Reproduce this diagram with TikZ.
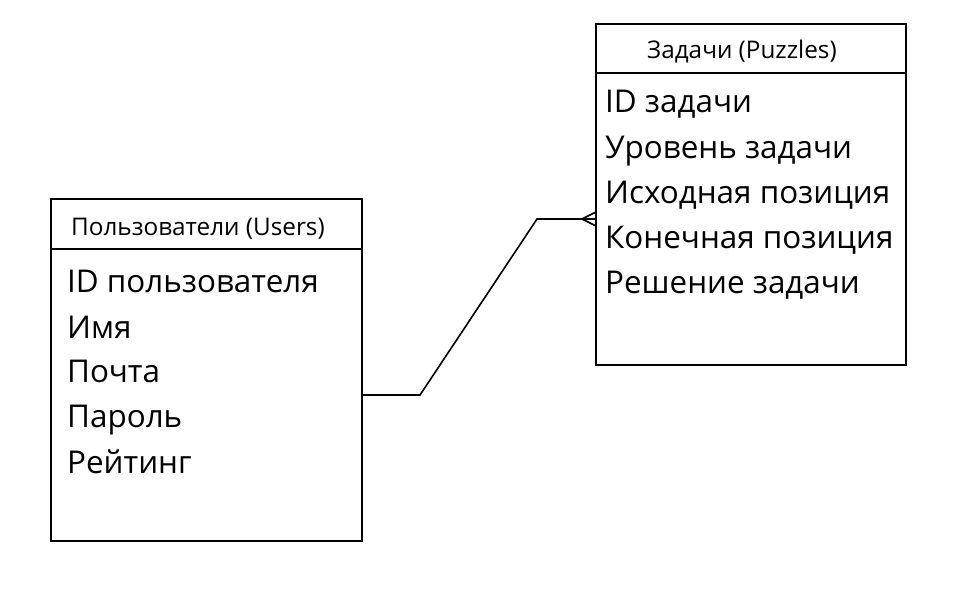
\documentclass[tikz,border=0pt]{standalone}
\usepackage{fontspec}
\setmainfont{Open Sans}
\begin{document}
\begin{tikzpicture}[x=1pt,y=-1pt,
  tbl/.style={draw=black,line width=1.6pt},
  hdr/.style={anchor=base west,inner sep=0pt,font=\fontsize{24.3}{28}\selectfont},
  row/.style={anchor=base west,inner sep=0pt,font=\fontsize{31.4}{36}\selectfont},
  link/.style={draw=black,line width=1.6pt}]
\useasboundingbox[fill=white] (0,0) rectangle (973,611);
% Users
\draw[tbl] (51,199) rectangle (362,541);
\draw[tbl] (51,249) -- (362,249);
\node[hdr] (uh) at (71,235) {Пользователи (Users)};
\node[row] (u1) at (67,292) {ID пользователя};
\node[row] (u2) at (67,338) {Имя};
\node[row] (u3) at (67,382) {Почта};
\node[row] (u4) at (67,427) {Пароль};
\node[row] (u5) at (67,473) {Рейтинг};
% Puzzles
\draw[tbl] (596,24) rectangle (906,365);
\draw[tbl] (596,73) -- (906,73);
\node[hdr] (ph) at (647,58) {Задачи (Puzzles)};
\node[row] (p1) at (605,112) {ID задачи};
\node[row] (p2) at (605,158) {Уровень задачи};
\node[row] (p3) at (605,203) {Исходная позиция};
\node[row] (p4) at (605,248) {Конечная позиция};
\node[row] (p5) at (605,293) {Решение задачи};
% connector
\coordinate (ua) at (362,395);
\coordinate (pa) at (596,219);
\coordinate (fk) at (582,219);
\draw[link] (ua) -- (420,395) -- (537,219) -- (pa);
\draw[link] (pa |- 0,212) -- (fk) -- (pa |- 0,226);
\end{tikzpicture}
\end{document}
